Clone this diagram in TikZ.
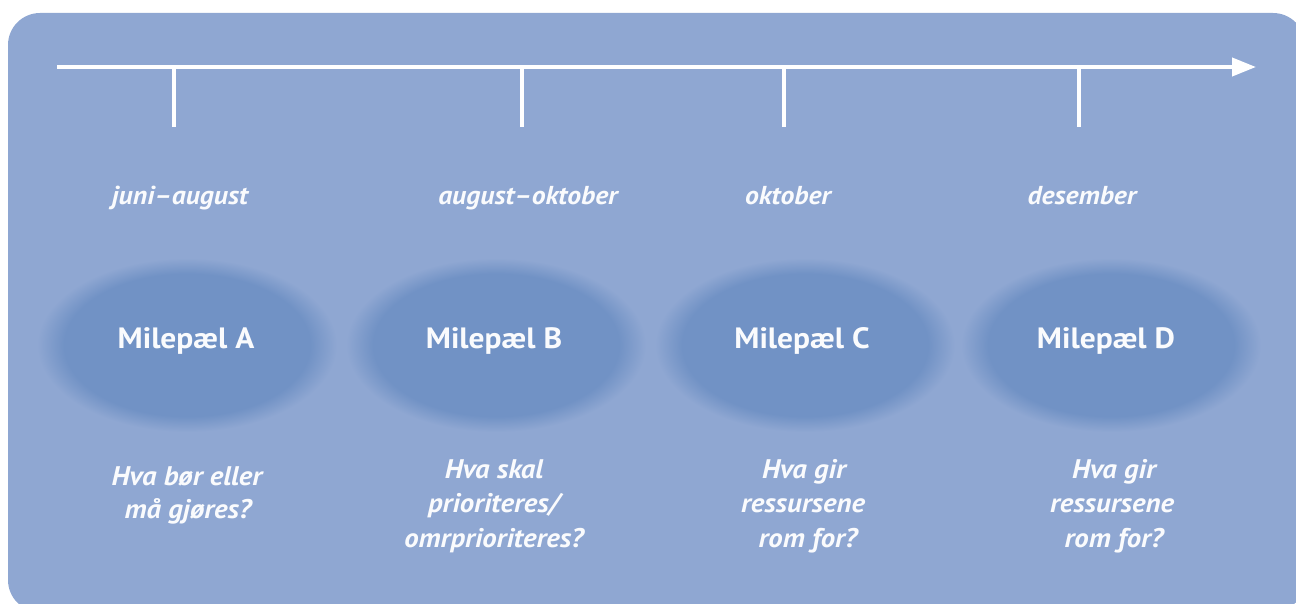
\documentclass[tikz,border=0pt]{standalone}
\usepackage{fontspec}
\setmainfont{PT Sans}[FakeStretch=1.07]
\usetikzlibrary{arrows.meta}
\definecolor{bgblue}{HTML}{8FA7D2}
\definecolor{coreblue}{HTML}{7192C5}
\definecolor{txtwhite}{HTML}{FAFBFD}
\pgfdeclareradialshading{milefade}{\pgfpoint{0bp}{0bp}}{color(0bp)=(coreblue); color(20.5bp)=(coreblue); color(25bp)=(bgblue); color(50bp)=(bgblue)}
\tikzset{
  axisline/.style={draw=white, line width=4bp},
  tickline/.style={draw=white, line width=4bp},
  datetxt/.style={text=txtwhite, anchor=base, inner sep=0pt, font=\fontsize{26}{30}\selectfont\bfseries\itshape},
  miletxt/.style={text=txtwhite, anchor=base, inner sep=0pt, font=\fontsize{29.5}{34}\selectfont\bfseries},
  questtxt/.style={text=txtwhite, anchor=base, inner sep=0pt, font=\fontsize{27}{32}\selectfont\bfseries\itshape},
  milefill/.style={shading=milefade}
}
\begin{document}
\begin{tikzpicture}[x=1bp,y=-1bp]
\useasboundingbox (0,0) rectangle (1296,604);
% background panel
\fill[bgblue, rounded corners=32bp] (8,13) rectangle (1305,612);
% axis
\coordinate (ax0) at (57,67);
\coordinate (ax1) at (1256,67);
\draw[axisline, -{Triangle[length=24bp,width=18bp]}] (ax0) -- (ax1);
% ticks
\coordinate (tA0) at (174,67);  \coordinate (tA1) at (174,127);
\coordinate (tB0) at (522,67);  \coordinate (tB1) at (522,127);
\coordinate (tC0) at (784,67);  \coordinate (tC1) at (784,127);
\coordinate (tD0) at (1079,67); \coordinate (tD1) at (1079,127);
\draw[tickline] (tA0) -- (tA1);
\draw[tickline] (tB0) -- (tB1);
\draw[tickline] (tC0) -- (tC1);
\draw[tickline] (tD0) -- (tD1);
% dates
\node[datetxt] (dA) at (180,205) {juni–august};
\node[datetxt] (dB) at (528,205) {august–oktober};
\node[datetxt] (dC) at (788,205) {oktober};
\node[datetxt] (dD) at (1082,205) {desember};
% milestone ellipses
\shade[milefill] (187,345) ellipse [x radius=150, y radius=87];
\shade[milefill] (496,345) ellipse [x radius=150, y radius=87];
\shade[milefill] (805,345) ellipse [x radius=150, y radius=87];
\shade[milefill] (1111,345) ellipse [x radius=150, y radius=87];
\node[miletxt] (mA) at (186,349) {Milepæl A};
\node[miletxt] (mB) at (494,349) {Milepæl B};
\node[miletxt] (mC) at (802,349) {Milepæl C};
\node[miletxt] (mD) at (1106,349) {Milepæl D};
% questions
\node[questtxt] (qA1) at (187,485) {Hva bør eller};
\node[questtxt] (qA2) at (188,518) {må gjøres?};
\node[questtxt] (qB1) at (494,478) {Hva skal};
\node[questtxt] (qB2) at (494,512) {prioriteres/};
\node[questtxt] (qB3) at (494,547) {omrprioriteres?};
\node[questtxt] (qC1) at (804,478) {Hva gir};
\node[questtxt] (qC2) at (803,512) {ressursene};
\node[questtxt] (qC3) at (808,547) {rom for?};
\node[questtxt] (qD1) at (1114,478) {Hva gir};
\node[questtxt] (qD2) at (1112,512) {ressursene};
\node[questtxt] (qD3) at (1114,547) {rom for?};
\end{tikzpicture}
\end{document}
